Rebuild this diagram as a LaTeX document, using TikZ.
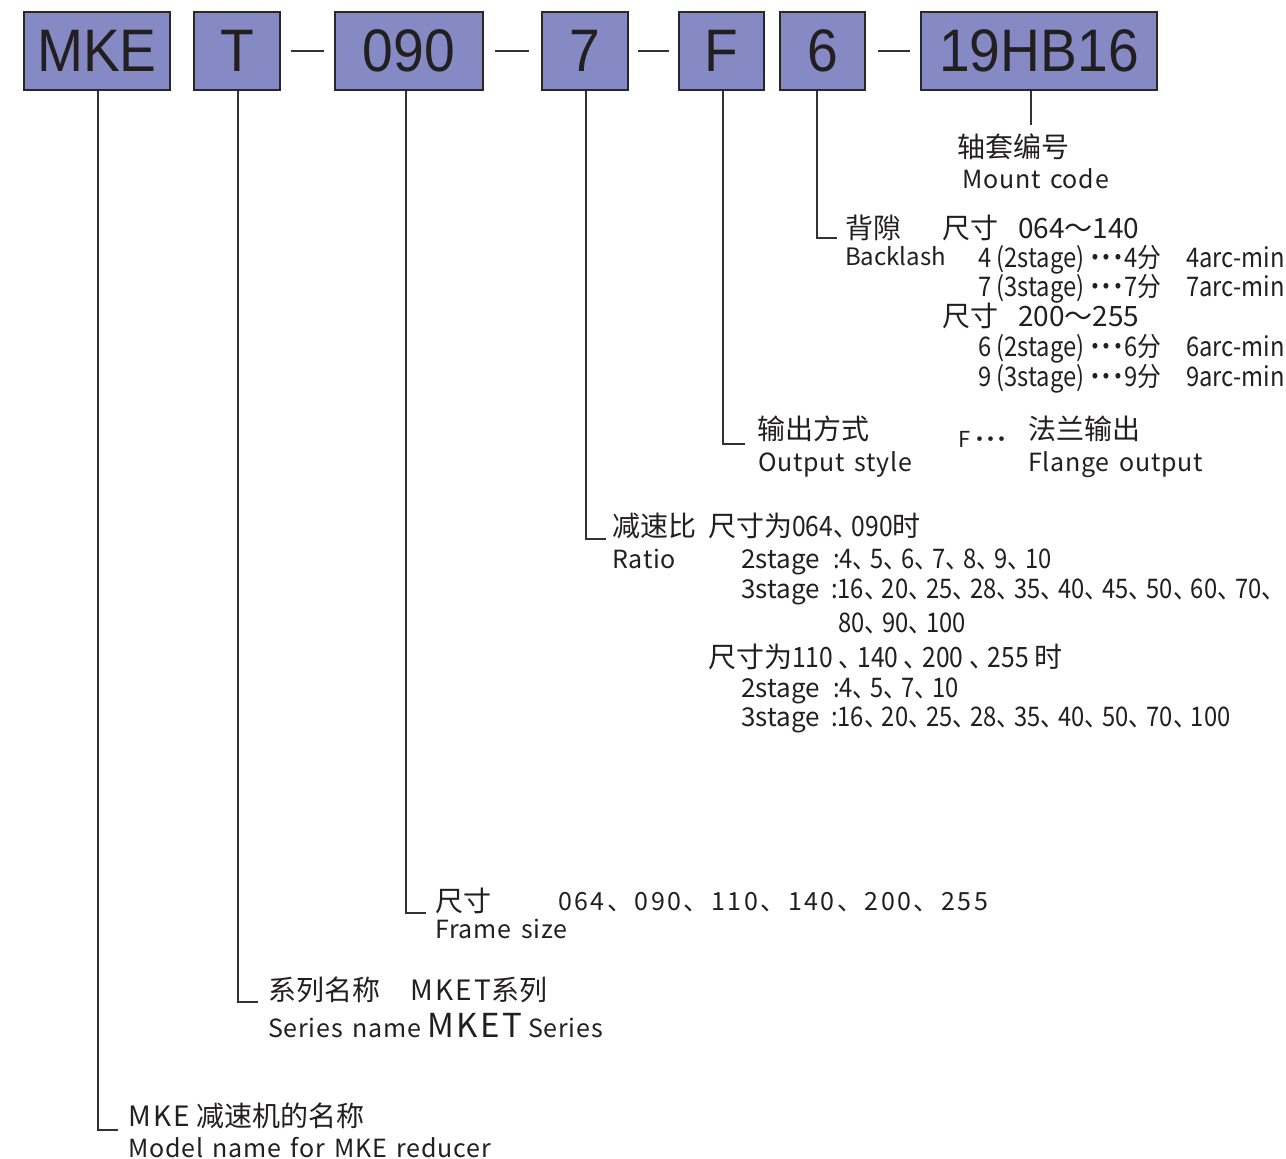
\documentclass[tikz,border=0pt]{standalone}
\usepackage{fontspec}
\setmainfont{Noto Sans CJK SC}
\newfontfamily\cjkn[FakeStretch=0.88]{Noto Sans CJK SC}
\newfontfamily\enf[LetterSpace=3,WordSpace=1.5]{Noto Sans CJK SC}
\newfontfamily\enwide[LetterSpace=10]{Noto Sans CJK SC}
\newfontfamily\mketf[LetterSpace=8]{Noto Sans CJK SC}
\newfontfamily\boxf[FakeStretch=0.92]{Liberation Sans}
\newcommand\dn{、\kern-6pt}
\newcommand\bdots{{\bfseries ･･･}}
\definecolor{boxfill}{RGB}{133,137,196}
\definecolor{boxline}{RGB}{40,40,40}
\definecolor{txt}{RGB}{35,31,32}
\definecolor{conn}{RGB}{50,50,50}
\begin{document}
\begin{tikzpicture}[x=1pt,y=-1pt,
  box/.style={draw=boxline, line width=2pt, fill=boxfill, inner sep=0pt, minimum height=78pt,
    font=\boxf\fontsize{60}{60}\selectfont, text=txt},
  lbl/.style={anchor=base west, inner sep=0pt, font=\fontsize{28}{30}\selectfont, text=txt},
  en/.style={anchor=base west, inner sep=0pt, font=\enf\fontsize{25}{28}\selectfont, text=txt},
  nar/.style={anchor=base west, inner sep=0pt, font=\cjkn\fontsize{27}{28}\selectfont, text=txt},
  stg/.style={anchor=base west, inner sep=0pt, font=\fontsize{26}{28}\selectfont, text=txt},
  connector/.style={draw=conn, line width=2pt},
  dashline/.style={draw=conn, line width=2pt}]
\useasboundingbox[fill=white] (0,0) rectangle (1286,1159);

% boxes
\node[box, minimum width=146pt] (bMKE) at (97,51) {MKE};
\node[box, minimum width=86pt] (bT) at (237,51) {T};
\node[box, minimum width=148pt] (b090) at (409,51) {090};
\node[box, minimum width=86pt] (b7) at (585,51) {7};
\node[box, minimum width=85pt] (bF) at (721.5,51) {F};
\node[box, minimum width=85pt] (b6) at (822.5,51) {6};
\node[box, minimum width=236pt] (b19) at (1039,51) {19HB16};

% dashes between boxes
\draw[dashline] ([xshift=10pt]bT.east) -- ([xshift=-10pt]b090.west);
\draw[dashline] ([xshift=11pt]b090.east) -- ([xshift=-12pt]b7.west);
\draw[dashline] ([xshift=9pt]b7.east) -- ([xshift=-9pt]bF.west);
\draw[dashline] ([xshift=12pt]b6.east) -- ([xshift=-10pt]b19.west);

% corner end points
\coordinate (eMKE) at (118,1130);
\coordinate (eT) at (258,1002);
\coordinate (e090) at (426,913);
\coordinate (e7) at (606,539);
\coordinate (eF) at (745,444);
\coordinate (e6) at (837,238);
\coordinate (e19) at (1031,125);

% connectors
\draw[connector] ([xshift=1pt]bMKE.south) |- (eMKE);
\draw[connector] ([xshift=1pt]bT.south) |- (eT);
\draw[connector] ([xshift=-3pt]b090.south) |- (e090);
\draw[connector] ([xshift=1pt]b7.south) |- (e7);
\draw[connector] ([xshift=1.5pt]bF.south) |- (eF);
\draw[connector] ([xshift=-5.5pt]b6.south) |- (e6);
\draw[connector] ([xshift=-8pt]b19.south) -- (e19);

% mount code
\node[lbl] (mc1) at (957,157) {轴套编号};
\node[en] (mc2) at (962,188) {Mount code};

% backlash
\node[lbl] (bl1) at (845,238) {背隙};
\node[lbl] (bl2) at (942,238) {尺寸};
\node[lbl] (bl3) at (1018,238) {064～140};
\node[anchor=base west, inner sep=0pt, font=\fontsize{24}{26}\selectfont, text=txt] (bl4) at (845,265) {Backlash};
\node[nar] (bl5) at (978,267) {4 (2stage)\,\bdots 4分};
\node[nar] (bl6) at (1186,267) {4arc-min};
\node[nar] (bl7) at (978,296) {7 (3stage)\,\bdots 7分};
\node[nar] (bl8) at (1186,296) {7arc-min};
\node[lbl] (bl9) at (942,326) {尺寸};
\node[lbl] (bl10) at (1018,326) {200～255};
\node[nar] (bl11) at (978,356) {6 (2stage)\,\bdots 6分};
\node[nar] (bl12) at (1186,356) {6arc-min};
\node[nar] (bl13) at (978,386) {9 (3stage)\,\bdots 9分};
\node[nar] (bl14) at (1186,386) {9arc-min};

% output style
\node[lbl] (os1) at (757,439) {输出方式};
\node[en] (os2) at (758,471) {Output style};
\node[anchor=base west, inner sep=0pt, font=\fontsize{22}{24}\selectfont, text=txt] (os3) at (958,447) {F\,\bdots};
\node[lbl] (os4) at (1028,439) {法兰输出};
\node[en] (os5) at (1028,471) {Flange output};

% ratio
\node[lbl] (r1) at (612,536) {减速比};
\node[lbl] (r2) at (708,536) {尺寸为\textnormal{\cjkn 064\dn 090}时};
\node[en] (r3) at (612,568) {Ratio};
\node[stg] (r4a) at (741,568) {2stage};
\node[nar] (r4) at (833,568) {:4\dn 5\dn 6\dn 7\dn 8\dn 9\dn 10};
\node[stg] (r5a) at (741,598) {3stage};
\node[nar] (r5) at (831,598) {:16\dn 20\dn 25\dn 28\dn 35\dn 40\dn 45\dn 50\dn 60\dn 70\dn};
\node[nar] (r6) at (838,632) {80\dn 90\dn 100};
\node[lbl] (r7) at (708,667) {尺寸为\textnormal{\cjkn 110 \dn 140 \dn 200 \dn 255 }时};
\node[stg] (r8a) at (741,697) {2stage};
\node[nar] (r8) at (833,697) {:4\dn 5\dn 7\dn 10};
\node[stg] (r9a) at (741,726) {3stage};
\node[nar] (r9) at (831,726) {:16\dn 20\dn 25\dn 28\dn 35\dn 40\dn 50\dn 70\dn 100};

% frame size
\node[lbl] (fs1) at (435,911) {尺寸};
\node[anchor=base west, inner sep=0pt, font=\enwide\fontsize{25}{28}\selectfont, text=txt] (fs2) at (558,910) {064、090、110、140、200、255};
\node[en] (fs3) at (435,938) {Frame size};

% series
\node[lbl] (sr1) at (268,1000) {系列名称};
\node[lbl] (sr2) at (410,1000) {{\mketf MKET}系列};
\node[en] (sr3) at (268,1037) {Series name};
\node[anchor=base west, inner sep=0pt, font=\mketf\fontsize{33}{34}\selectfont, text=txt] (sr4) at (427,1037) {MKET};
\node[en] (sr5) at (528,1037) {Series};

% model
\node[lbl] (md1) at (128,1126) {{\mketf MKE} 减速机的名称};
\node[en] (md2) at (128,1157) {Model name for MKE reducer};
\end{tikzpicture}
\end{document}
